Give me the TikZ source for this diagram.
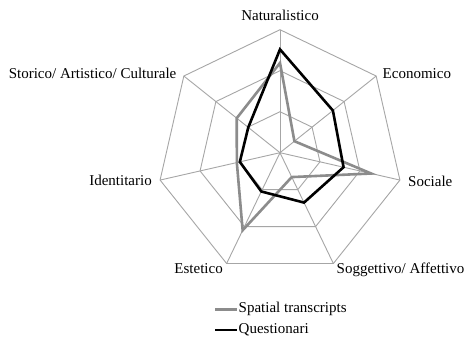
\documentclass[tikz,border=0pt]{standalone}
\usepackage{fontspec}
\setmainfont{Liberation Serif}
\definecolor{gridgray}{HTML}{A6A6A6}
\definecolor{seriesgray}{HTML}{8C8C8C}
\begin{document}
\begin{tikzpicture}[x=1pt,y=-1pt,
  gridline/.style={draw=gridgray, line width=0.9pt, line join=miter},
  spatial/.style={draw=seriesgray, line width=2.6pt, line join=miter},
  quest/.style={draw=black, line width=2.6pt, line join=miter},
  lbl/.style={inner sep=0pt, font=\fontsize{15}{18}\selectfont}]
\useasboundingbox (0,0) rectangle (466,338);
\fill[white] (0,0) rectangle (466,338);

% radar grid: three heptagons and seven spokes
\begin{scope}[shift={(280,152.7)}]
  \foreach \k in {1,2,3} {
    \draw[gridline] (-90:{41*\k})
      \foreach \i in {1,...,6} { -- ({-90+\i*360/7}:{41*\k}) } -- cycle;
  }
  \foreach \i in {0,...,6} {
    \draw[gridline] (0,0) -- ({-90+\i*360/7}:123);
  }
  % data series (values as fractions of the outer ring)
  \draw[spatial] (-90:{123*0.73})
    -- ({-90+1*360/7}:{123*0.15})
    -- ({-90+2*360/7}:{123*0.76})
    -- ({-90+3*360/7}:{123*0.22})
    -- ({-90+4*360/7}:{123*0.70})
    -- ({-90+5*360/7}:{123*0.36})
    -- ({-90+6*360/7}:{123*0.45}) -- cycle;
  \draw[quest] (-90:{123*0.84})
    -- ({-90+1*360/7}:{123*0.55})
    -- ({-90+2*360/7}:{123*0.53})
    -- ({-90+3*360/7}:{123*0.45})
    -- ({-90+4*360/7}:{123*0.35})
    -- ({-90+5*360/7}:{123*0.335})
    -- ({-90+6*360/7}:{123*0.33}) -- cycle;
\end{scope}

% axis labels
\node[lbl, anchor=base] (nat) at (280,20.5) {Naturalistico};
\node[lbl, anchor=base west] (eco) at (382.5,78.3) {Economico};
\node[lbl, anchor=base west] (soc) at (408,186.5) {Sociale};
\node[lbl, anchor=base west] (sog) at (336.5,273.3) {Soggettivo/ Affettivo};
\node[lbl, anchor=base east] (est) at (223,273.3) {Estetico};
\node[lbl, anchor=base east] (ide) at (152,185) {Identitario};
\node[lbl, anchor=base east] (sto) at (176.5,78.3) {Storico/ Artistico/ Culturale};

% legend
\coordinate (l1a) at (215,309.3);
\coordinate (l1b) at (237,309.3);
\coordinate (l2a) at (215,330);
\coordinate (l2b) at (237,330);
\draw[spatial, line cap=butt] (l1a) -- (l1b);
\draw[quest, line cap=butt] (l2a) -- (l2b);
\node[lbl, anchor=west] (legs) at (238.5,309.3) {Spatial transcripts};
\node[lbl, anchor=west] (legq) at (238.5,330) {Questionari};
\end{tikzpicture}
\end{document}
